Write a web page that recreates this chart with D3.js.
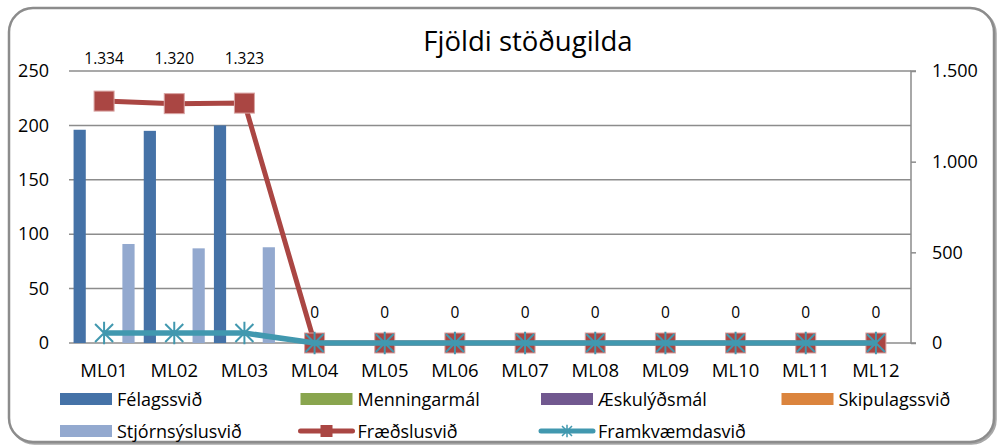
<!DOCTYPE html>
<html>
<head>
<meta charset="utf-8">
<script src="https://cdn.jsdelivr.net/npm/d3@7"></script>
<style>
  body { margin: 0; background: #fff; }
  text { font-family: "Open Sans", sans-serif; fill: #000; }
</style>
</head>
<body>
<svg width="999" height="447"></svg>
<script>
// categories and values
const months = ["ML01", "ML02", "ML03", "ML04", "ML05", "ML06", "ML07", "ML08", "ML09", "ML10", "ML11", "ML12"];
const felagssvid      = [196, 195, 200, 0, 0, 0, 0, 0, 0, 0, 0, 0];
const menningarmal    = [0, 0, 0, 0, 0, 0, 0, 0, 0, 0, 0, 0];
const aeskulydsmal    = [0, 0, 0, 0, 0, 0, 0, 0, 0, 0, 0, 0];
const skipulagssvid   = [0, 0, 0, 0, 0, 0, 0, 0, 0, 0, 0, 0];
const stjornsyslusvid = [91, 87, 88, 0, 0, 0, 0, 0, 0, 0, 0, 0];
const fraedslusvid    = [1334, 1320, 1323, 0, 0, 0, 0, 0, 0, 0, 0, 0];
const framkvaemdasvid = [55, 55, 55, 0, 0, 0, 0, 0, 0, 0, 0, 0];
const leftTicks = [0, 50, 100, 150, 200, 250];
const rightTicks = [0, 500, 1000, 1500];

const barSeries = [
  { name: "Félagssvið", values: felagssvid, color: "#4572A7" },
  { name: "Menningarmál", values: menningarmal, color: "#89A54E" },
  { name: "Æskulýðsmál", values: aeskulydsmal, color: "#71588F" },
  { name: "Skipulagssvið", values: skipulagssvid, color: "#DB843D" },
  { name: "Stjórnsýslusvið", values: stjornsyslusvid, color: "#93A9CF" }
];
const redColor = "#AA4643";
const tealColor = "#4198AF";

const is = d3.formatLocale({ decimal: ",", thousands: ".", grouping: [3], currency: ["", " kr"] });
const fmt = is.format(",");

const svg = d3.select("svg");
const plotLeft = 69, plotRight = 911, plotTop = 71, plotBottom = 343;

// chart frame
svg.append("rect")
  .attr("x", 10.5).attr("y", 9.5).attr("width", 985).attr("height", 434)
  .attr("rx", 24).attr("fill", "none")
  .attr("stroke", "#6e6e6e").attr("stroke-width", 2.5)
  .attr("opacity", 0.6);
svg.append("rect")
  .attr("x", 9).attr("y", 8).attr("width", 985).attr("height", 434)
  .attr("rx", 24).attr("fill", "#fff")
  .attr("stroke", "#8c8c8c").attr("stroke-width", 2.5);

svg.append("text")
  .attr("x", 528).attr("y", 51)
  .attr("text-anchor", "middle")
  .style("font-size", "27.5px")
  .text("Fjöldi stöðugilda");

const x = d3.scaleBand().domain(months).range([plotLeft, plotRight]);
const xBar = d3.scaleBand().domain(barSeries.map(s => s.name))
  .range([0, x.bandwidth()]).paddingInner(0).paddingOuter(0.375);
const yL = d3.scaleLinear().domain([0, 250]).range([plotBottom, plotTop]);
const yR = d3.scaleLinear().domain([0, 1500]).range([plotBottom, plotTop]);

// gridlines
svg.append("g").selectAll("line").data(leftTicks).enter()
  .append("line")
  .attr("x1", plotLeft).attr("x2", plotRight)
  .attr("y1", d => yL(d)).attr("y2", d => yL(d))
  .attr("stroke", "#8c8c8c").attr("stroke-width", 1.5);

// left axis
const axL = svg.append("g").attr("transform", `translate(${plotLeft},0)`)
  .call(d3.axisLeft(yL).tickValues(leftTicks).tickSize(0).tickPadding(20));
axL.select(".domain").remove();
axL.selectAll("text").style("font-size", "18px").style("font-family", "Open Sans");

// right axis
const axR = svg.append("g").attr("transform", `translate(${plotRight},0)`)
  .call(d3.axisRight(yR).tickValues(rightTicks).tickSize(5).tickPadding(16).tickFormat(fmt));
axR.select(".domain").attr("d", `M5,${plotTop}H0V${plotBottom}H5`).attr("stroke", "#8c8c8c").attr("stroke-width", 1.5);
axR.selectAll(".tick line").attr("stroke", "#8c8c8c").attr("stroke-width", 1.5);
axR.selectAll("text").style("font-size", "18px").style("font-family", "Open Sans");

// x axis labels
const axX = svg.append("g").attr("transform", `translate(0,${plotBottom})`)
  .call(d3.axisBottom(x).tickSize(0).tickPadding(21));
axX.select(".domain").remove();
axX.selectAll("text").style("font-size", "18.5px").style("font-family", "Open Sans");

// bars
barSeries.forEach(s => {
  svg.append("g").selectAll("rect").data(s.values).enter()
    .append("rect")
    .attr("x", (d, i) => x(months[i]) + xBar(s.name))
    .attr("width", xBar.bandwidth())
    .attr("y", d => yL(d))
    .attr("height", d => plotBottom - yL(d))
    .attr("fill", s.color);
});

// Fræðslusvið line (right axis)
const lineR = d3.line().x((d, i) => x(months[i]) + x.bandwidth() / 2).y(d => yR(d));
svg.append("path").datum(fraedslusvid)
  .attr("d", lineR).attr("fill", "none")
  .attr("stroke", redColor).attr("stroke-width", 5);
svg.append("g").selectAll("rect").data(fraedslusvid).enter()
  .append("rect")
  .attr("x", (d, i) => x(months[i]) + x.bandwidth() / 2 - 10)
  .attr("y", d => yR(d) - 10)
  .attr("width", 20).attr("height", 20)
  .attr("fill", redColor).attr("stroke", "#d9a3a2").attr("stroke-width", 1);

// Framkvæmdasvið line (right axis)
svg.append("path").datum(framkvaemdasvid)
  .attr("d", lineR).attr("fill", "none")
  .attr("stroke", tealColor).attr("stroke-width", 5.5);

const star = (cx, cy, r) =>
  `M${cx - r},${cy - r}L${cx + r},${cy + r}M${cx - r},${cy + r}L${cx + r},${cy - r}M${cx},${cy - r * 1.25}V${cy + r * 1.25}`;
svg.append("g").selectAll("path").data(framkvaemdasvid).enter()
  .append("path")
  .attr("d", (d, i) => star(x(months[i]) + x.bandwidth() / 2, yR(d), 9))
  .attr("stroke", tealColor).attr("stroke-width", 2).attr("fill", "none");

// data labels for Fræðslusvið
svg.append("g").selectAll("text").data(fraedslusvid).enter()
  .append("text")
  .attr("x", (d, i) => x(months[i]) + x.bandwidth() / 2)
  .attr("y", d => d > 0 ? plotTop - 7 : yR(d) - 25)
  .attr("text-anchor", "middle")
  .style("font-size", "15.5px")
  .text(d => fmt(d));

// legend
const legendItems = [
  { name: "Félagssvið", color: "#4572A7", type: "bar", col: 0, row: 0 },
  { name: "Menningarmál", color: "#89A54E", type: "bar", col: 1, row: 0 },
  { name: "Æskulýðsmál", color: "#71588F", type: "bar", col: 2, row: 0 },
  { name: "Skipulagssvið", color: "#DB843D", type: "bar", col: 3, row: 0 },
  { name: "Stjórnsýslusvið", color: "#93A9CF", type: "bar", col: 0, row: 1 },
  { name: "Fræðslusvið", color: redColor, type: "square", col: 1, row: 1 },
  { name: "Framkvæmdasvið", color: tealColor, type: "star", col: 2, row: 1 }
];
const legend = svg.append("g");
legendItems.forEach(it => {
  const lx = 60 + it.col * 240.5 - (it.type !== "bar" ? 2 : 0);
  const ly = 399 + it.row * 32;
  const g = legend.append("g");
  if (it.type === "bar") {
    g.append("rect").attr("x", lx).attr("y", ly - 6).attr("width", 52).attr("height", 12).attr("fill", it.color);
  } else {
    g.append("line").attr("x1", lx + 2).attr("x2", lx + 54).attr("y1", ly).attr("y2", ly)
      .attr("stroke", it.color).attr("stroke-width", 5).attr("stroke-linecap", "round");
    if (it.type === "square") {
      g.append("rect").attr("x", lx + 22).attr("y", ly - 6).attr("width", 12).attr("height", 12)
        .attr("fill", it.color);
    } else {
      g.append("path").attr("d", star(lx + 28, ly, 5)).attr("stroke", it.color).attr("stroke-width", 1.5);
    }
  }
  g.append("text").attr("x", 60 + it.col * 240.5 + 57).attr("y", ly + 6.5)
    .style("font-size", "18px").text(it.name);
});
</script>
</body>
</html>
